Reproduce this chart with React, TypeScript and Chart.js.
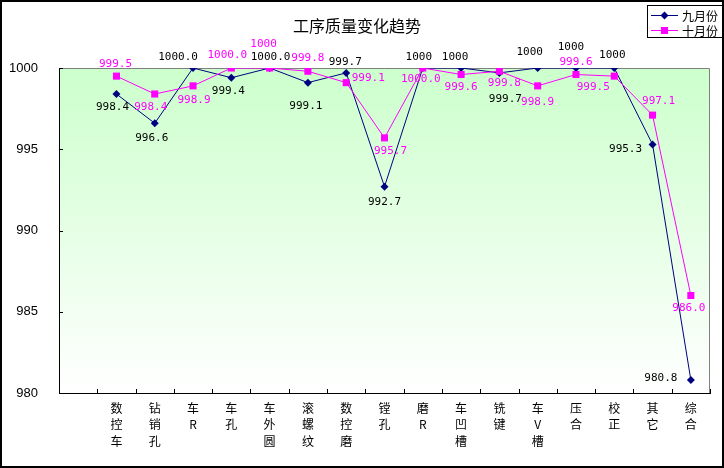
import React, { useEffect, useRef } from 'react';
import { Chart, registerables } from 'chart.js';

Chart.register(...registerables);

const categories: string[][] = [
  [''],
  ['数', '控', '车'],
  ['钻', '销', '孔'],
  ['车', 'R'],
  ['车', '孔'],
  ['车', '外', '圆'],
  ['滚', '螺', '纹'],
  ['数', '控', '磨'],
  ['镗', '孔'],
  ['磨', 'R'],
  ['车', '凹', '槽'],
  ['铣', '键'],
  ['车', 'V', '槽'],
  ['压', '合'],
  ['校', '正'],
  ['其', '它'],
  ['综', '合'],
];

const seriesNames = ['九月份', '十月份'];

const septValues: (number | null)[] = [null, 998.4, 996.6, 1000.0, 999.4, 1000.0, 999.1, 999.7, 992.7, 1000, 1000, 999.7, 1000, 1000, 1000, 995.3, 980.8];
const octValues: (number | null)[] = [null, 999.5, 998.4, 998.9, 1000.0, 1000, 999.8, 999.1, 995.7, 1000.0, 999.6, 999.8, 998.9, 999.6, 999.5, 997.1, 986.0];

const septLabels: string[] = ['', '998.4', '996.6', '1000.0', '999.4', '1000.0', '999.1', '999.7', '992.7', '1000', '1000', '999.7', '1000', '1000', '1000', '995.3', '980.8'];
const octLabels: string[] = ['', '999.5', '998.4', '998.9', '1000.0', '1000', '999.8', '999.1', '995.7', '1000.0', '999.6', '999.8', '998.9', '999.6', '999.5', '997.1', '986.0'];

const yMin = 980;
const yMax = 1000;
const yStep = 5;

// label placement offsets relative to each point (layout only)
const septLabelOffsets: [number, number][] = [
  [0, 0], [-4, 13], [-3, 15], [-15, -11], [-3, 13], [1, -11], [-2, 24], [-1, -11], [0, 16],
  [-4, -11], [-6, -11], [6, 26], [-8, -16], [-5, -21], [-2, -13], [-27, 5], [-30, -2],
];
const octLabelOffsets: [number, number][] = [
  [0, 0], [-1, -12], [-4, 13], [1, 14], [-4, -13], [-6, -24], [0, -13], [22, -4], [6, 13],
  [-2, 11], [0, 13], [5, 12], [0, 16], [0, -12], [-21, 11], [6, -14], [-2, 13],
];

const NAVY = '#000080';
const MAGENTA = '#ff00ff';

const decorPlugin = {
  id: 'decor',
  beforeDraw(chart: any) {
    const { ctx, chartArea: a, width, height } = chart;
    ctx.save();
    ctx.fillStyle = '#ffffff';
    ctx.fillRect(0, 0, width, height);
    const g = ctx.createLinearGradient(0, a.top, 0, a.bottom);
    g.addColorStop(0, '#ccffcc');
    g.addColorStop(1, '#ffffff');
    ctx.fillStyle = g;
    ctx.fillRect(a.left, a.top, a.right - a.left, a.bottom - a.top);
    ctx.restore();
  },
  beforeDatasetsDraw(chart: any) {
    const { ctx, chartArea: a, scales } = chart;
    ctx.save();
    ctx.strokeStyle = '#808080';
    ctx.lineWidth = 1;
    ctx.beginPath();
    ctx.moveTo(a.left, a.top + 0.5);
    ctx.lineTo(a.right - 0.5, a.top + 0.5);
    ctx.lineTo(a.right - 0.5, a.bottom);
    ctx.stroke();
    // inward tick marks
    ctx.strokeStyle = '#000000';
    ctx.beginPath();
    const ys = scales.y;
    ys.ticks.forEach((t: any) => {
      const y = Math.round(ys.getPixelForValue(t.value)) + 0.5;
      ctx.moveTo(a.left, y);
      ctx.lineTo(a.left + 4, y);
    });
    const n = categories.length;
    const w = (a.right - a.left) / n;
    for (let i = 1; i <= n; i++) {
      const x = Math.round(a.left + i * w) + 0.5;
      ctx.moveTo(x, a.bottom);
      ctx.lineTo(x, a.bottom - 4);
    }
    ctx.stroke();
    ctx.restore();
  },
  afterDatasetsDraw(chart: any) {
    const { ctx } = chart;
    ctx.save();
    ctx.font = '11px "DejaVu Sans Mono"';
    ctx.textAlign = 'center';
    ctx.textBaseline = 'middle';
    const sets = [
      { labels: septLabels, offs: septLabelOffsets, color: '#000000' },
      { labels: octLabels, offs: octLabelOffsets, color: MAGENTA },
    ];
    sets.forEach((s, di) => {
      const meta = chart.getDatasetMeta(di);
      meta.data.forEach((p: any, i: number) => {
        const txt = s.labels[i];
        if (!txt || p.skip) return;
        ctx.fillStyle = s.color;
        ctx.fillText(txt, p.x + s.offs[i][0], p.y + s.offs[i][1]);
      });
    });
    ctx.restore();
  },
  afterDraw(chart: any) {
    const { ctx, width, height } = chart;
    ctx.save();
    // title
    ctx.fillStyle = '#000000';
    ctx.font = '16px "Noto Sans CJK SC"';
    ctx.textAlign = 'center';
    ctx.textBaseline = 'middle';
    ctx.fillText('工序质量变化趋势', 357, 26);
    // legend box
    ctx.fillStyle = '#ffffff';
    ctx.fillRect(647, 5, 75, 32);
    ctx.strokeStyle = '#000000';
    ctx.lineWidth = 1;
    ctx.strokeRect(647.5, 5.5, 75, 32);
    const items = [
      { name: seriesNames[0], color: NAVY, y: 15, style: 'diamond' },
      { name: seriesNames[1], color: MAGENTA, y: 30, style: 'square' },
    ];
    items.forEach((it) => {
      ctx.strokeStyle = it.color;
      ctx.fillStyle = it.color;
      ctx.lineWidth = 1;
      ctx.beginPath();
      ctx.moveTo(651, it.y + 0.5);
      ctx.lineTo(678, it.y + 0.5);
      ctx.stroke();
      ctx.beginPath();
      if (it.style === 'diamond') {
        ctx.moveTo(664.5 - 4, it.y + 0.5);
        ctx.lineTo(664.5, it.y + 0.5 - 4);
        ctx.lineTo(664.5 + 4, it.y + 0.5);
        ctx.lineTo(664.5, it.y + 0.5 + 4);
        ctx.closePath();
      } else {
        ctx.rect(661, it.y - 3, 7, 7);
      }
      ctx.fill();
      ctx.fillStyle = '#000000';
      ctx.font = '12px "Noto Sans CJK SC"';
      ctx.textAlign = 'left';
      ctx.textBaseline = 'middle';
      ctx.fillText(it.name, 682, it.y + 1);
    });
    // outer border
    ctx.strokeStyle = '#000000';
    ctx.lineWidth = 2;
    ctx.strokeRect(1, 1, width - 2, height - 2);
    ctx.restore();
  },
};

export default function App() {
  const ref = useRef<HTMLCanvasElement | null>(null);

  useEffect(() => {
    document.body.style.margin = '0';
    const canvas = ref.current;
    if (!canvas) return;
    const chart = new Chart(canvas, {
      type: 'line',
      data: {
        labels: categories as any,
        datasets: [
          {
            label: seriesNames[0],
            data: septValues,
            borderColor: NAVY,
            backgroundColor: NAVY,
            borderWidth: 1,
            pointStyle: 'rectRot',
            pointRadius: 4,
            pointBorderWidth: 0,
            pointBackgroundColor: NAVY,
            tension: 0,
            order: 1,
          },
          {
            label: seriesNames[1],
            data: octValues,
            borderColor: MAGENTA,
            backgroundColor: MAGENTA,
            borderWidth: 1,
            pointStyle: 'rect',
            pointRadius: 5,
            pointBorderWidth: 0,
            pointBackgroundColor: MAGENTA,
            tension: 0,
            order: 0,
          },
        ],
      },
      options: {
        responsive: false,
        animation: false,
        devicePixelRatio: 1,
        layout: { padding: { top: 68, right: 14, left: 0, bottom: 0 } },
        plugins: {
          legend: { display: false },
          title: { display: false },
          tooltip: { enabled: false },
        },
        scales: {
          x: {
            type: 'category',
            offset: true,
            grid: { display: true, drawOnChartArea: false, drawTicks: false },
            border: { display: true, color: '#000000', width: 1 },
            ticks: {
              autoSkip: false,
              maxRotation: 0,
              minRotation: 0,
              padding: 7,
              color: '#000000',
              font: { family: '"Noto Sans CJK SC"', size: 12, lineHeight: 1.38 },
            },
            afterFit(s: any) {
              s.height = 75;
            },
          },
          y: {
            min: yMin,
            max: yMax,
            grid: { display: true, drawOnChartArea: false, drawTicks: false },
            border: { display: true, color: '#000000', width: 1 },
            ticks: {
              stepSize: yStep,
              padding: 21,
              color: '#000000',
              font: { family: '"Liberation Sans"', size: 13 },
              callback: (v: any) => String(v),
            },
            afterFit(s: any) {
              s.width = 59;
            },
          },
        },
      },
      plugins: [decorPlugin],
    });
    return () => chart.destroy();
  }, []);

  return (
    <div style={{ width: 724, height: 468 }}>
      <canvas ref={ref} width={724} height={468} style={{ display: 'block' }} />
    </div>
  );
}
